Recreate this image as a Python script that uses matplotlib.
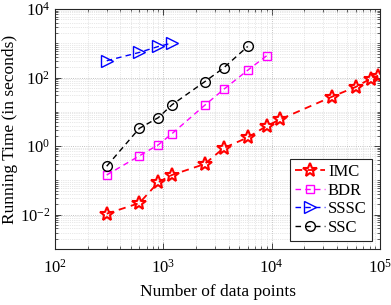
import numpy as np
import matplotlib
matplotlib.use('Agg')
import matplotlib.pyplot as plt
from matplotlib.ticker import LogLocator, FixedLocator, NullFormatter

plt.rcParams['font.family'] = ['Liberation Serif', 'DejaVu Serif']
plt.rcParams['mathtext.fontset'] = 'custom'
plt.rcParams['mathtext.rm'] = 'Liberation Serif'
plt.rcParams['mathtext.it'] = 'Liberation Serif:italic'

# data
imc_n = [300, 600, 900, 1200, 2400, 3600, 6000, 9000, 12000, 36000, 60000, 82000, 96000]
imc_t = [0.0107, 0.0218, 0.0887, 0.144, 0.30, 0.875, 1.79, 3.87, 6.06, 27.6, 53.7, 93.6, 114]

bdr_n = [300, 600, 900, 1200, 2400, 3600, 6000, 9000]
bdr_t = [0.144, 0.52, 1.1, 2.3, 15.4, 45, 163, 435]

sssc_n = [300, 600, 900, 1200]
sssc_t = [310, 541, 807, 1014]

ssc_n = [300, 600, 900, 1200, 2400, 3600, 6000]
ssc_t = [0.26, 3.3, 6.8, 16, 75, 191, 807]

fig = plt.figure(figsize=(3.91, 3.05), dpi=100)
ax = fig.add_axes([0.1407, 0.1836, 0.9719 - 0.1407, 0.9705 - 0.1836])

dash = (4, 3)
ax.plot(imc_n, imc_t, linestyle=(0, dash), color='red', marker='*', markersize=10,
        markerfacecolor='none', markeredgewidth=1.5, linewidth=1.3, label='IMC')
ax.plot(bdr_n, bdr_t, linestyle=(0, dash), color='magenta', marker='s', markersize=6,
        markerfacecolor='none', markeredgewidth=1.0, linewidth=1.0, label='BDR')
ax.plot(sssc_n, sssc_t, linestyle=(0, dash), color='blue', marker='>', markersize=8,
        markerfacecolor='none', markeredgewidth=1.0, linewidth=1.0, label='SSSC')
ax.plot(ssc_n, ssc_t, linestyle=(0, dash), color='black', marker='o', markersize=7,
        markerfacecolor='none', markeredgewidth=1.0, linewidth=1.0, label='SSC')

ax.set_xscale('log')
ax.set_yscale('log')
ax.set_xlim(1e2, 1e5)
ax.set_ylim(1e-3, 1e4)

ax.xaxis.set_major_locator(FixedLocator([1e2, 1e3, 1e4, 1e5]))
ax.yaxis.set_major_locator(FixedLocator([1e-2, 1e0, 1e2, 1e4]))
ax.set_xticklabels([r'$10^{2}$', r'$10^{3}$', r'$10^{4}$', r'$10^{5}$'])
ax.set_yticklabels([r'$10^{-2}$', r'$10^{0}$', r'$10^{2}$', r'$10^{4}$'])
ax.xaxis.set_minor_locator(LogLocator(base=10, subs=np.arange(2, 10), numticks=20))
ax.yaxis.set_minor_locator(LogLocator(base=10, subs=np.arange(1, 10), numticks=20))
ax.xaxis.set_minor_formatter(NullFormatter())
ax.yaxis.set_minor_formatter(NullFormatter())

ax.tick_params(which='both', direction='in', top=True, right=True, labelsize=12,
               color='#262626')
ax.tick_params(axis='x', which='major', pad=7)
ax.tick_params(which='major', length=4, width=0.6)
ax.tick_params(which='minor', length=2.2, width=0.5)
ax.grid(True, which='major', linestyle=':', color='#b0b0b0', linewidth=0.6)
ax.grid(True, which='minor', linestyle=':', color='#d0d0d0', linewidth=0.5)
ax.set_axisbelow(True)
for s in ax.spines.values():
    s.set_color('#262626')
    s.set_linewidth(0.8)

ax.set_xlabel('Number of data points', fontsize=12.5, labelpad=5)
ax.set_ylabel('Running Time (in seconds)', fontsize=12.5, labelpad=1)

leg = ax.legend(loc='lower right', fontsize=12, fancybox=False, framealpha=1,
                edgecolor='#262626', handlelength=1.8, handletextpad=0.2,
                borderpad=0.3, labelspacing=0.15, borderaxespad=0.5)
leg.get_frame().set_linewidth(0.8)

fig.savefig('out.png', dpi=100)
